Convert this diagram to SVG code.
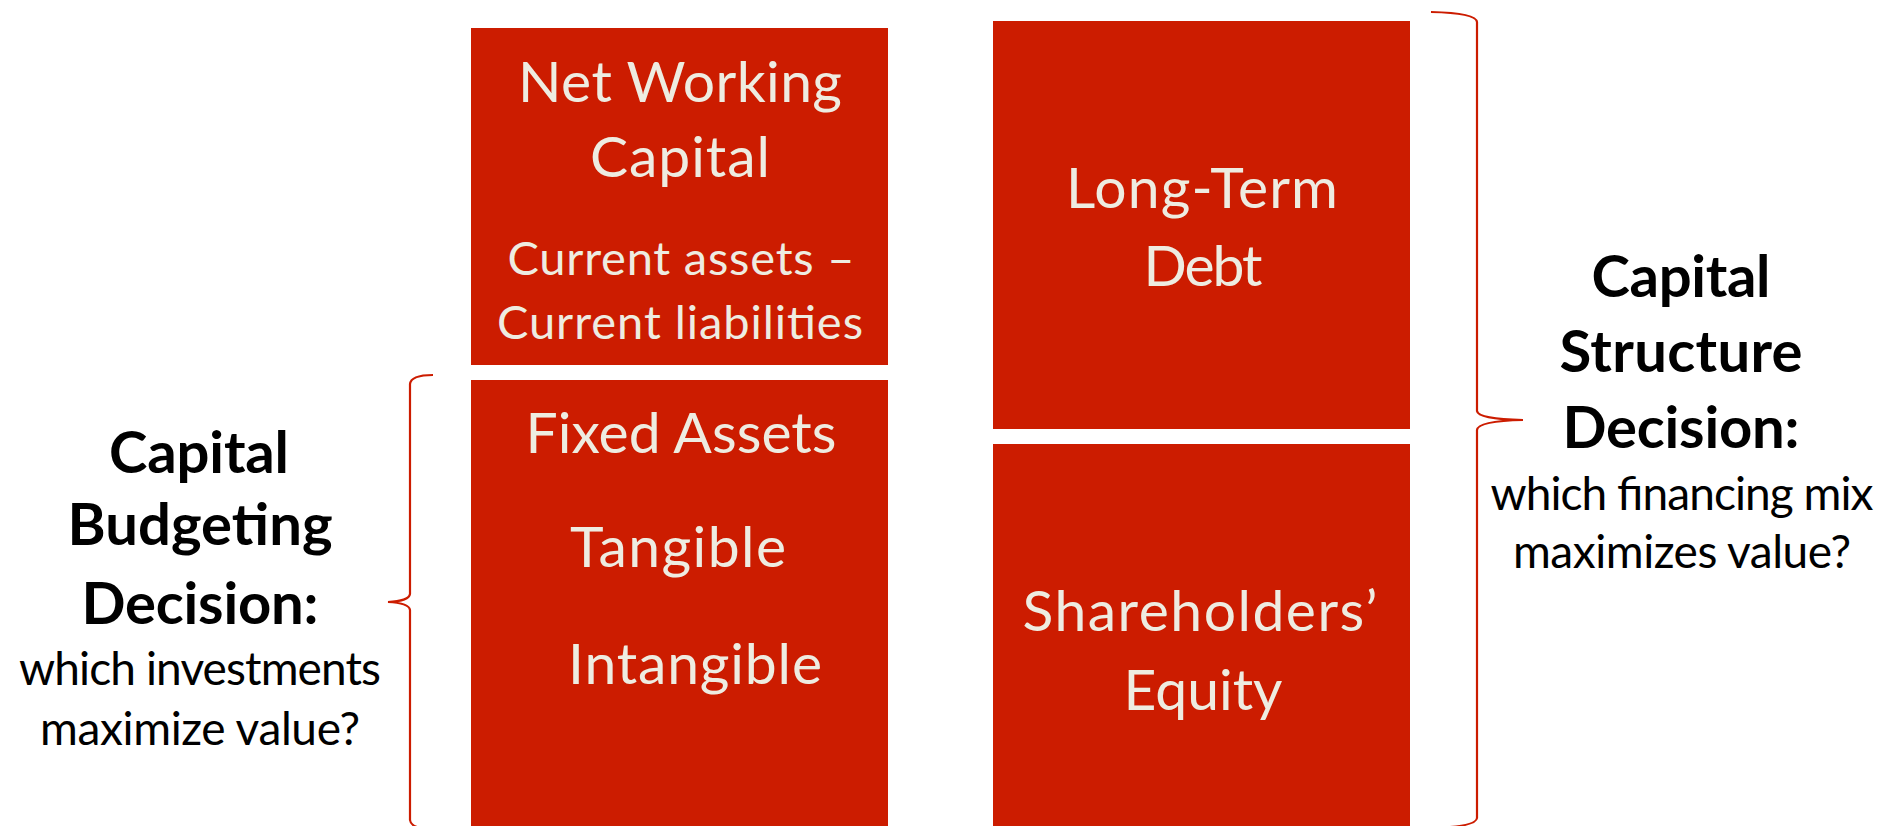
<svg xmlns="http://www.w3.org/2000/svg" width="1896" height="826" viewBox="0 0 1896 826">
<style>
.box{fill:#CC1C00}
.wt{fill:#EEECE1;font-family:Lato,"Open Sans",sans-serif;text-anchor:middle}
.big{font-size:57px}
.mid{font-size:47px}
.bt{fill:#000;font-family:Lato,"Open Sans",sans-serif;font-weight:bold;font-size:58px;text-anchor:middle}
.st{fill:#000;font-family:Lato,"Open Sans",sans-serif;font-size:46px;text-anchor:middle}
.brace{fill:none;stroke:#CC1C00;stroke-width:2.2}
</style>
<rect width="1896" height="826" fill="#fff"/>
<g id="nwc">
<rect class="box" x="471" y="28" width="417" height="337"/>
<text class="wt big" x="680" y="102" textLength="324">Net Working</text>
<text class="wt big" x="680" y="177" textLength="180">Capital</text>
<text class="wt mid" x="681" y="275" textLength="347">Current assets –</text>
<text class="wt mid" x="680" y="339" textLength="366">Current liabilities</text>
</g>
<g id="fixed">
<rect class="box" x="471" y="380" width="417" height="446"/>
<text class="wt big" x="681" y="453" textLength="311">Fixed Assets</text>
<text class="wt big" x="678" y="567" textLength="216">Tangible</text>
<text class="wt big" x="695" y="684" textLength="254">Intangible</text>
</g>
<g id="ltd">
<rect class="box" x="993" y="21" width="417" height="408"/>
<text class="wt big" x="1202" y="208" textLength="272">Long-Term</text>
<text class="wt big" x="1203" y="286" textLength="119">Debt</text>
</g>
<g id="equity">
<rect class="box" x="993" y="444" width="417" height="382"/>
<text class="wt big" x="1200" y="631" textLength="355">Shareholders’</text>
<text class="wt big" x="1203" y="710" textLength="159">Equity</text>
</g>
<g id="capital-budgeting">
<text class="bt" x="199" y="473" textLength="180">Capital</text>
<text class="bt" x="200" y="545" textLength="265">Budgeting</text>
<text class="bt" x="200" y="624" textLength="237">Decision:</text>
<text class="st" x="200" y="685" textLength="362">which investments</text>
<text class="st" x="200" y="745" textLength="320">maximize value?</text>
</g>
<g id="capital-structure">
<text class="bt" x="1681" y="297" textLength="179">Capital</text>
<text class="bt" x="1681" y="372" textLength="243">Structure</text>
<text class="bt" x="1681" y="448" textLength="237">Decision:</text>
<text class="st" x="1682" y="510" textLength="383">which financing mix</text>
<text class="st" x="1682" y="568" textLength="338">maximizes value?</text>
</g>
<g id="connectors">
<path class="brace" d="M433,375 Q411,375 410,384 L410,594 Q409,601 388,602 Q409,603 410,610 L410,820 Q411,829 433,829"/>
<path class="brace" d="M1431,12 Q1476,13 1477,22 L1477,411 Q1478,419 1523,420 Q1478,421 1477,430 L1477,818 Q1476,827 1431,828"/>
</g>
</svg>
